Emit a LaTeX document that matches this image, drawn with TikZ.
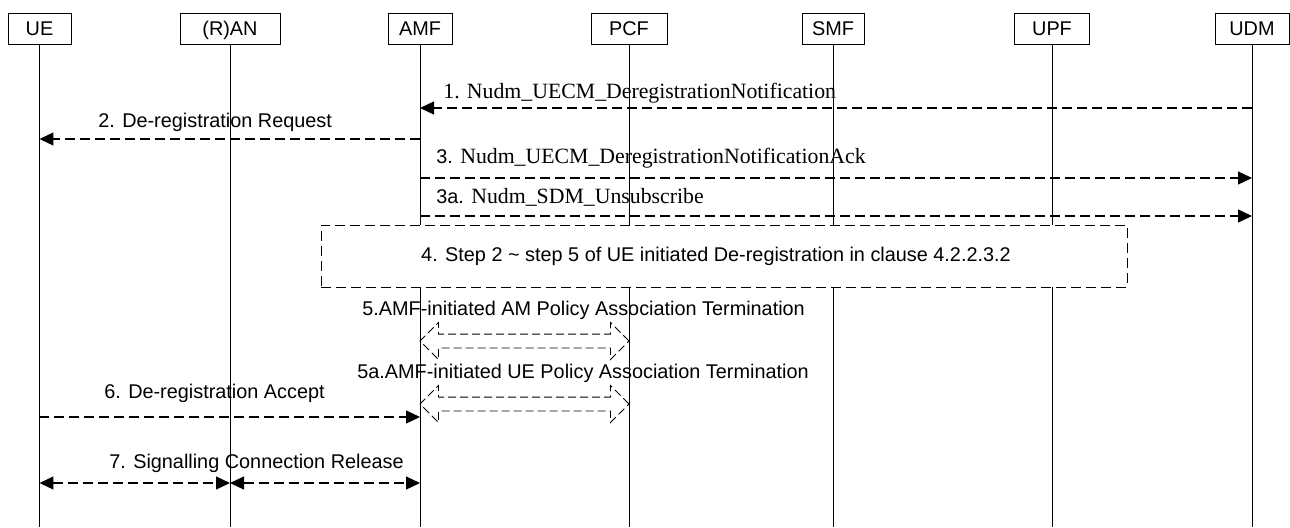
\documentclass[tikz,border=0pt]{standalone}
\usepackage{fontspec}
\setmainfont{Liberation Sans}
\newfontfamily\tnr{Liberation Serif}
\usetikzlibrary{arrows.meta, shapes.arrows, calc}
\newcommand{\svc}[1]{{\fontsize{12.4}{14}\selectfont\tnr #1}}

\begin{document}
\begin{tikzpicture}[x=0.02cm, y=-0.02cm, font=\fontsize{11.3}{13}\selectfont]
     % Define styles
     \tikzstyle{entity} = [draw, line width=0.5pt, minimum height=0.62cm, inner sep=0pt,
          text height=1.6ex, text depth=0.15ex]
     \tikzstyle{lifeline} = [line width=0.5pt]
     \tikzstyle{msg} = [line width=0.7pt, dash pattern=on 0.2cm off 0.1cm, -{Triangle[length=0.28cm, width=0.26cm]}]
     \tikzstyle{msgboth} = [msg, {Triangle[length=0.28cm, width=0.26cm]}-{Triangle[length=0.28cm, width=0.26cm]}]
     \tikzstyle{txt} = [anchor=west, inner sep=0pt]
     \tikzstyle{hollow} = [draw, line width=0.5pt, dash pattern=on 0.16cm off 0.08cm, double arrow,
          double arrow head extend=0.23cm, inner sep=0pt, inner ysep=0.13cm, minimum height=4.18cm]

     \useasboundingbox (0,0) rectangle (1290,527);

     % Entities
     \node[entity, minimum width=1.26cm] (ue)  at (39.5,28.5)  {UE};
     \node[entity, minimum width=2.0cm]  (ran) at (230,28.5)   {(R)AN};
     \node[entity, minimum width=1.28cm] (amf) at (420,28.5)   {AMF};
     \node[entity, minimum width=1.52cm] (pcf) at (629,28.5)   {PCF};
     \node[entity, minimum width=1.24cm] (smf) at (833,28.5)   {SMF};
     \node[entity, minimum width=1.5cm]  (upf) at (1052,28.5)  {UPF};
     \node[entity, minimum width=1.48cm] (udm) at (1252,28.5)  {UDM};

     % Lifelines
     \foreach \n in {ue,ran,amf,pcf,smf,upf,udm} {
          \draw[lifeline] (\n.south) -- (\n.south |- 0,527);
     }

     % 1. notification from UDM
     \draw[msg] (udm |- 0,108) -- (amf |- 0,108);
     \node[txt] (l1) at (443,93) {\svc{1. Nudm\_UECM\_DeregistrationNotification}};

     % 2. request to UE
     \draw[msg] (amf |- 0,139) -- (ue |- 0,139);
     \node[txt] (l2) at (98,122) {2. De-registration Request};

     % 3. ack and unsubscribe
     \draw[msg] (amf |- 0,178) -- (udm |- 0,178);
     \node[txt] (l3) at (436,158) {3. \svc{Nudm\_UECM\_DeregistrationNotificationAck}};
     \draw[msg] (amf |- 0,216) -- (udm |- 0,216);
     \node[txt] (l3a) at (436,197) {3a. \svc{Nudm\_SDM\_Unsubscribe}};

     % 4. steps of UE initiated de-registration
     \node[draw, fill=white, line width=0.5pt, dash pattern=on 0.2cm off 0.1cm,
          minimum width=16.12cm, minimum height=1.24cm, inner sep=0pt] (step4) at (724,256) {};
     \node[inner sep=0pt] (l4) at (716,256)
          {4. Step 2 \textasciitilde{} step 5 of UE initiated De-registration in clause 4.2.2.3.2};

     % 5. policy association terminations
     \node[txt] (l5) at (362,310) {5.AMF-initiated AM Policy Association Termination};
     \node[hollow] (am5) at ($(amf |- 0,341)!0.5!(pcf |- 0,341)$) {};
     \node[txt] (l5a) at (357,373) {5a.AMF-initiated UE Policy Association Termination};
     \node[hollow] (ue5a) at ($(amf |- 0,404)!0.5!(pcf |- 0,404)$) {};

     % 6. accept
     \draw[msg] (ue |- 0,417) -- (amf |- 0,417);
     \node[txt] (l6) at (104,393) {6. De-registration Accept};

     % 7. release
     \draw[msgboth] (ue |- 0,483) -- (ran |- 0,483);
     \draw[msgboth] (ran |- 0,483) -- (amf |- 0,483);
     \node[txt] (l7) at (109,463) {7. Signalling Connection Release};

\end{tikzpicture}
\end{document}
